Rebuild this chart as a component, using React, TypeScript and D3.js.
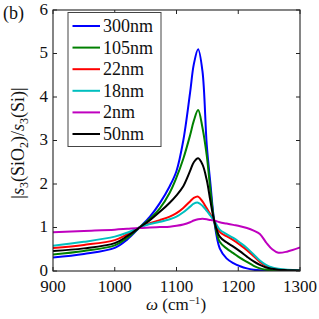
import React from "react";
import * as d3 from "d3";

const omega = [900, 950, 1000, 1020, 1040, 1057, 1073, 1089, 1100, 1111, 1122, 1128, 1135, 1142, 1149, 1155, 1161, 1170, 1181, 1192, 1203, 1214, 1225, 1235, 1245, 1255, 1265, 1280, 1300];

const s300 = [0.31, 0.39, 0.53, 0.72, 1.0, 1.25, 1.56, 1.95, 2.3, 3.0, 4.1, 4.75, 5.1, 4.6, 2.9, 2.0, 1.16, 0.52, 0.29, 0.18, 0.11, 0.06, 0.03, 0.015, 0.01, 0.01, 0.01, 0.01, 0.01];
const s105 = [0.38, 0.46, 0.59, 0.76, 1.0, 1.2, 1.44, 1.8, 2.15, 2.58, 3.12, 3.45, 3.7, 3.3, 2.65, 1.85, 1.16, 0.67, 0.52, 0.41, 0.3, 0.21, 0.12, 0.06, 0.03, 0.02, 0.015, 0.01, 0.01];
const s22 = [0.53, 0.6, 0.71, 0.84, 1.0, 1.1, 1.17, 1.25, 1.33, 1.45, 1.6, 1.68, 1.71, 1.6, 1.44, 1.3, 1.16, 0.9, 0.8, 0.71, 0.6, 0.48, 0.34, 0.21, 0.12, 0.07, 0.04, 0.02, 0.02];
const s18 = [0.58, 0.67, 0.79, 0.88, 1.0, 1.08, 1.13, 1.19, 1.25, 1.35, 1.48, 1.55, 1.57, 1.5, 1.38, 1.27, 1.16, 0.95, 0.85, 0.76, 0.65, 0.53, 0.38, 0.24, 0.14, 0.08, 0.05, 0.03, 0.02];
const s2 = [0.89, 0.92, 0.95, 0.97, 0.99, 1.0, 1.01, 1.02, 1.04, 1.07, 1.12, 1.16, 1.19, 1.2, 1.19, 1.17, 1.16, 1.12, 1.09, 1.06, 1.03, 0.99, 0.93, 0.85, 0.66, 0.5, 0.42, 0.45, 0.54];
const s50 = [0.46, 0.52, 0.64, 0.8, 1.0, 1.17, 1.36, 1.57, 1.74, 1.95, 2.3, 2.5, 2.59, 2.45, 2.09, 1.6, 1.16, 0.79, 0.66, 0.56, 0.45, 0.33, 0.22, 0.14, 0.08, 0.05, 0.03, 0.02, 0.01];

const seriesNames = ["300nm", "105nm", "22nm", "18nm", "2nm", "50nm"];
const seriesValues = [s300, s105, s22, s18, s2, s50];
const seriesColors = ["#0000ff", "#008000", "#ff0000", "#00bfbf", "#bf00bf", "#000000"];

const xTicks = [900, 1000, 1100, 1200, 1300];
const yTicks = [0, 1, 2, 3, 4, 5, 6];

const font = "Liberation Serif, DejaVu Serif, Times New Roman, serif";

export default function App() {
  const width = 319, height = 319;
  const plot = { left: 53, right: 300, top: 10, bottom: 271 };

  const x = d3.scaleLinear().domain([900, 1300]).range([plot.left, plot.right]);
  const y = d3.scaleLinear().domain([0, 6]).range([plot.bottom, plot.top]);

  const line = d3.line<[number, number]>()
    .x(d => x(d[0]))
    .y(d => y(d[1]))
    .curve(d3.curveCatmullRom.alpha(0.5));

  const tickLen = 4;

  // legend layout
  const leg = { x: 68, y: 12.5, w: 93, h: 134 };
  const rowY = (i: number) => 26 + i * 21.6;

  return (
    <svg width={width} height={height} style={{ position: "absolute", left: 0, top: 0 }}>
      <rect width={width} height={height} fill="white" />
      <clipPath id="plotclip">
        <rect x={plot.left} y={plot.top} width={plot.right - plot.left} height={plot.bottom - plot.top} />
      </clipPath>

      <g clipPath="url(#plotclip)">
        {seriesValues.map((vals, i) => (
          <path key={seriesNames[i]}
            d={line(omega.map((w, j) => [w, vals[j]] as [number, number])) || ""}
            fill="none" stroke={seriesColors[i]} strokeWidth={2} />
        ))}
      </g>

      {/* frame */}
      <rect x={plot.left} y={plot.top} width={plot.right - plot.left} height={plot.bottom - plot.top}
        fill="none" stroke="#222" strokeWidth={1.1} />

      <g fontFamily={font} fill="#111">
        {/* x ticks */}
        {xTicks.map(t => (
          <g key={"x" + t}>
            <line x1={x(t)} x2={x(t)} y1={plot.bottom} y2={plot.bottom - tickLen} stroke="#222" />
            <line x1={x(t)} x2={x(t)} y1={plot.top} y2={plot.top + tickLen} stroke="#222" />
            <text x={x(t)} y={292} fontSize={17} textAnchor="middle">{t}</text>
          </g>
        ))}

        {/* y ticks */}
        {yTicks.map(t => (
          <g key={"y" + t}>
            <line x1={plot.left} x2={plot.left + tickLen} y1={y(t)} y2={y(t)} stroke="#222" />
            <line x1={plot.right} x2={plot.right - tickLen} y1={y(t)} y2={y(t)} stroke="#222" />
            <text x={48} y={y(t) + 4.5} fontSize={17} textAnchor="end">{t}</text>
          </g>
        ))}

        {/* axis labels */}
        <text x={176} y={310} fontSize={17} textAnchor="middle">
          <tspan fontStyle="italic">ω</tspan>
          <tspan> (cm</tspan>
          <tspan fontSize={11} dy={-6}>−1</tspan>
          <tspan dy={6}>)</tspan>
        </text>

        <text transform={`translate(24,${143}) rotate(-90)`} fontSize={18} textAnchor="middle">
          <tspan>|</tspan>
          <tspan fontStyle="italic">s</tspan>
          <tspan fontSize={12} dy={4}>3</tspan>
          <tspan dy={-4}>(SiO</tspan>
          <tspan fontSize={12} dy={4}>2</tspan>
          <tspan dy={-4}>)/</tspan>
          <tspan fontStyle="italic">s</tspan>
          <tspan fontSize={12} dy={4}>3</tspan>
          <tspan dy={-4}>(Si)|</tspan>
        </text>

        <text x={3} y={19} fontSize={18}>(b)</text>

        {/* legend */}
        <rect x={leg.x} y={leg.y} width={leg.w} height={leg.h} fill="white" stroke="#444" strokeWidth={1} />
        {seriesNames.map((name, i) => (
          <g key={"leg" + name}>
            <line x1={72.5} x2={100} y1={rowY(i)} y2={rowY(i)} stroke={seriesColors[i]} strokeWidth={2} />
            <text x={103} y={rowY(i) + 6} fontSize={18}>{name}</text>
          </g>
        ))}
      </g>
    </svg>
  );
}
